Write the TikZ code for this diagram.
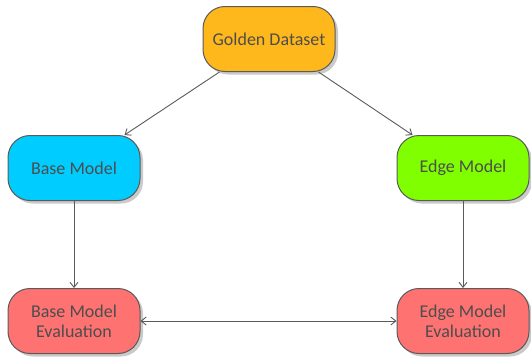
\documentclass[tikz,border=0pt]{standalone}
\usepackage{fontspec}
\setmainfont{Carlito}
\usetikzlibrary{arrows.meta,shadows}
\definecolor{txtgray}{HTML}{4D4D4D}
\definecolor{edgegray}{HTML}{5A5A5A}
\definecolor{golden}{HTML}{FFB81C}
\definecolor{basecol}{HTML}{00CCFF}
\definecolor{edgecol}{HTML}{80FF00}
\definecolor{evalcol}{HTML}{FF7272}
\tikzset{
  box/.style={draw=edgegray, line width=1pt, rounded corners=22pt,
    minimum width=132pt, minimum height=65pt, text=txtgray,
    align=center, font=\fontsize{18}{20}\selectfont,
    drop shadow={shadow xshift=3pt, shadow yshift=-3pt, fill=black!35, opacity=0.6}},
  conn/.style={draw=edgegray, line width=0.9pt, -{Straight Barb[length=5pt,width=8pt]}},
}
\begin{document}
\begin{tikzpicture}[x=1pt,y=1pt]
  \useasboundingbox (0,0) rectangle (531,-357);
  \node[box, fill=golden]  (gold) at (269,-39)  {Golden Dataset};
  \node[box, fill=basecol] (base) at (74,-168)  {Base Model};
  \node[box, fill=edgecol] (edge) at (463,-168) {Edge Model};
  \node[box, fill=evalcol] (beval) at (74,-321) {Base Model\\Evaluation};
  \node[box, fill=evalcol] (eeval) at (463,-321) {Edge Model\\Evaluation};
  \draw[conn] ([xshift=17pt]gold.south west) -- ([xshift=-16pt]base.north east);
  \draw[conn] ([xshift=-17pt]gold.south east) -- ([xshift=16pt]edge.north west);
  \draw[conn] (base) -- (beval);
  \draw[conn] (edge) -- (eeval);
  \draw[conn, {Straight Barb[length=5pt,width=8pt]}-{Straight Barb[length=5pt,width=8pt]}] (beval) -- (eeval);
\end{tikzpicture}
\end{document}
